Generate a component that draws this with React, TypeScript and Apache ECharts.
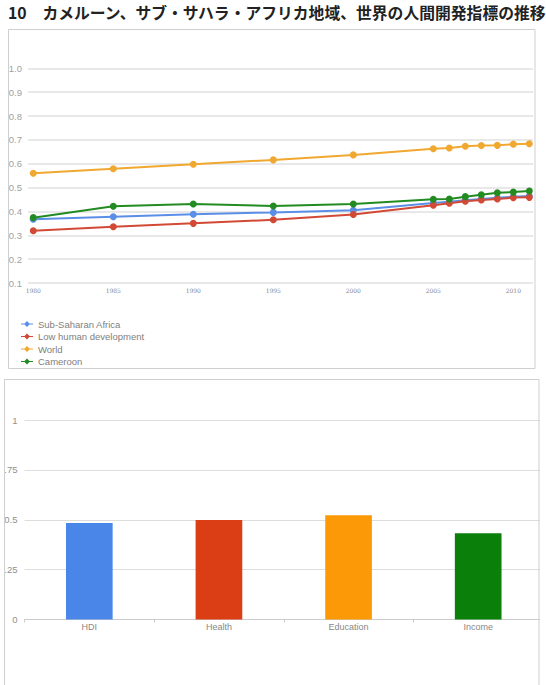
import React, { useEffect, useRef } from "react";
import * as echarts from "echarts";

const titleText = "10\u3000カメルーン、サブ・サハラ・アフリカ地域、世界の人間開発指標の推移";

const years = [1980, 1985, 1990, 1995, 2000, 2005, 2006, 2007, 2008, 2009, 2010, 2011];
const yearLabels = [1980, 1985, 1990, 1995, 2000, 2005, 2010];
const seriesNames = ["Sub-Saharan Africa", "Low human development", "World", "Cameroon"];
const subSaharan = [0.367, 0.378, 0.388, 0.396, 0.405, 0.435, 0.441, 0.447, 0.452, 0.457, 0.462, 0.465];
const lowHuman = [0.319, 0.336, 0.35, 0.365, 0.387, 0.426, 0.434, 0.443, 0.448, 0.452, 0.458, 0.459];
const world = [0.56, 0.579, 0.598, 0.616, 0.637, 0.663, 0.666, 0.673, 0.676, 0.677, 0.682, 0.684];
const cameroon = [0.374, 0.422, 0.431, 0.423, 0.431, 0.451, 0.452, 0.462, 0.47, 0.478, 0.481, 0.486];
const lineColors = ["#5b8ee6", "#d24a35", "#f0a830", "#228b22"];

const barCategories = ["HDI", "Health", "Education", "Income"];
const barValues = [0.484, 0.499, 0.522, 0.432];
const barColors = ["#4a86e8", "#db3e15", "#fb9a06", "#0a800a"];
const barTickValues = [0, 0.25, 0.5, 0.75, 1];
const barTickLabels = ["0", ".25", "0.5", ".75", "1"];

const FONT = "'Liberation Sans', Arial, sans-serif";
const legendIcon = "path://M0 4H3.5L6 1.5L8.5 4H12V5H8.5L6 7.5L3.5 5H0Z";

export default function App() {
  const ref = useRef<HTMLDivElement>(null);
  useEffect(() => {
    if (!ref.current) return;
    const chart = echarts.init(ref.current, null, { renderer: "svg" });
    const lineData = [subSaharan, lowHuman, world, cameroon];
    const option: any = {
      animation: false,
      backgroundColor: "#ffffff",
      textStyle: { fontFamily: FONT },
      graphic: [
        {
          type: "text",
          x: 8,
          y: 12.5,
          z: 100,
          style: {
            text: titleText,
            font: "bold 15.8px 'Noto Sans CJK JP', sans-serif",
            fill: "#222222",
            verticalAlign: "middle",
          },
        },
        {
          type: "rect",
          z: 100,
          shape: { x: 540, y: 378, width: 10, height: 320 },
          style: { fill: "#ffffff" },
        },
        {
          type: "rect",
          z: 101,
          shape: { x: 8.5, y: 29.5, width: 526.5, height: 339 },
          style: { fill: "none", stroke: "#cfcfcf", lineWidth: 1 },
        },
        {
          type: "rect",
          z: 101,
          shape: { x: 4.5, y: 379.5, width: 534.5, height: 320 },
          style: { fill: "none", stroke: "#cfcfcf", lineWidth: 1 },
        },
      ],
      legend: {
        orient: "vertical",
        left: 16,
        top: 313,
        itemWidth: 12,
        itemHeight: 8,
        itemGap: 0.5,
        data: seriesNames.map((n) => ({ name: n, icon: legendIcon })),
        textStyle: { fontSize: 9.5, color: "#808080", fontFamily: FONT, lineHeight: 12 },
      },
      grid: [
        { left: 28, top: 68.3, width: 505, height: 214.7 },
        { left: 24.5, top: 420, width: 518.5, height: 199.5 },
      ],
      xAxis: [
        {
          type: "value",
          gridIndex: 0,
          min: 1979.67,
          max: 2011.23,
          axisLine: { show: false },
          axisTick: { show: false },
          splitLine: { show: false },
          axisLabel: {
            customValues: yearLabels,
            fontSize: 6,
            color: "#888888",
            margin: 4,
            fontFamily: "'DejaVu Serif', serif",
            formatter: (v: number) => String(v),
          },
        },
        {
          type: "category",
          gridIndex: 1,
          data: barCategories,
          axisLine: { lineStyle: { color: "#cccccc", width: 1 } },
          axisTick: { show: true, length: 3, lineStyle: { color: "#cccccc" } },
          axisLabel: { fontSize: 9, color: "#888888", margin: 3, fontFamily: FONT },
        },
      ],
      yAxis: [
        {
          type: "value",
          gridIndex: 0,
          min: 0.1,
          max: 1.0,
          interval: 0.1,
          axisLine: { show: false },
          axisTick: { show: false },
          splitLine: { lineStyle: { color: "#e0e0e0", width: 1.5 } },
          axisLabel: {
            fontSize: 9.5,
            color: "#a0a0a0",
            margin: 6,
            fontFamily: FONT,
            formatter: (v: number) => v.toFixed(1),
          },
        },
        {
          type: "value",
          gridIndex: 1,
          min: 0,
          max: 1,
          interval: 0.25,
          axisLine: { show: false },
          axisTick: { show: false },
          splitLine: { lineStyle: { color: "#dddddd", width: 1 } },
          axisLabel: {
            fontSize: 9.5,
            color: "#909090",
            margin: 7,
            fontFamily: FONT,
            formatter: (v: number) => {
              const i = barTickValues.findIndex((t) => Math.abs(t - v) < 1e-9);
              return i >= 0 ? barTickLabels[i] : String(v);
            },
          },
        },
      ],
      series: [
        ...seriesNames.map((name, si) => ({
          name,
          type: "line",
          xAxisIndex: 0,
          yAxisIndex: 0,
          data: years.map((y, i) => [y, lineData[si][i]]),
          symbol: "circle",
          symbolSize: 7,
          color: lineColors[si],
          lineStyle: { width: 2, color: lineColors[si] },
          itemStyle: { color: lineColors[si] },
        })),
        {
          type: "bar",
          name: "bars",
          xAxisIndex: 1,
          yAxisIndex: 1,
          barWidth: "36%",
          data: barValues.map((v, i) => ({ value: v, itemStyle: { color: barColors[i] } })),
        },
      ],
    };
    chart.setOption(option);
    return () => chart.dispose();
  }, []);
  return (
    <div
      ref={ref}
      style={{ position: "fixed", left: 0, top: 0, width: 546, height: 685, background: "#fff" }}
    />
  );
}
